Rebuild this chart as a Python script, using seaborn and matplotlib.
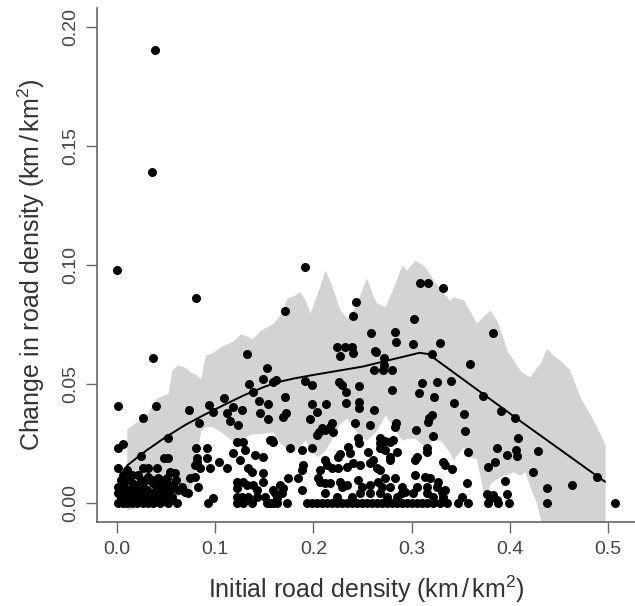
import matplotlib
matplotlib.use("Agg")
import matplotlib.pyplot as plt
import numpy as np
import pandas as pd
import seaborn as sns

# points well above the cloud
top_x = [0.0003, 0.0387, 0.0353, 0.1914, 0.0804, 0.1710, 0.0370, 0.1320, 0.2434, 0.2400,
         0.3086, 0.3170, 0.3323, 0.3024, 0.2583, 0.2834, 0.2841, 0.3011, 0.3289, 0.2627,
         0.2237, 0.2322, 0.2390, 0.2719, 0.3832]
top_y = [0.0978, 0.1903, 0.1390, 0.0992, 0.0861, 0.0807, 0.0607, 0.0625, 0.0845, 0.0786,
         0.0924, 0.0924, 0.0903, 0.0772, 0.0714, 0.0719, 0.0677, 0.0667, 0.0672, 0.0639,
         0.0655, 0.0655, 0.0655, 0.0607, 0.0714]

# initial density below 0.16
low_x = [0.1524, 0.1490, 0.1592, 0.1348, 0.1388, 0.1090, 0.0940, 0.0981, 0.1117, 0.1185,
         0.1270, 0.1450, 0.1535, 0.1456, 0.1541, 0.1151, 0.1236, 0.0730, 0.0838, 0.0014,
         0.0397, 0.0268, 0.0516, 0.0014, 0.0064, 0.0244, 0.0479, 0.0516, 0.0804, 0.0913,
         0.0811, 0.0920, 0.0794, 0.0845, 0.0947, 0.1042, 0.1117, 0.1219, 0.1280, 0.1185,
         0.1303, 0.1253, 0.1405, 0.1490, 0.1575, 0.1337, 0.1372, 0.1490, 0.0014, 0.0098,
         0.0268, 0.0319, 0.0411, 0.0064, 0.0149, 0.0217, 0.0319, 0.0421, 0.0540, 0.0591,
         0.0506, 0.0014, 0.0064, 0.0149, 0.0200, 0.0268, 0.0370, 0.0438, 0.0506, 0.0574,
         0.0658, 0.0743, 0.0794, 0.0828, 0.0014, 0.0064, 0.0149, 0.0217, 0.0268, 0.0353,
         0.0421, 0.0489, 0.0557, 0.0692, 0.0726, 0.0981, 0.1219, 0.1219, 0.1286, 0.1320,
         0.1388, 0.1422, 0.1490, 0.1219, 0.1270, 0.1337, 0.1422, 0.1507, 0.1592, 0.0811]
low_y = [0.0565, 0.0519, 0.0509, 0.0499, 0.0466, 0.0441, 0.0410, 0.0382, 0.0375, 0.0403,
         0.0389, 0.0429, 0.0415, 0.0375, 0.0350, 0.0343, 0.0327, 0.0389, 0.0334, 0.0406,
         0.0406, 0.0354, 0.0270, 0.0228, 0.0245, 0.0196, 0.0186, 0.0186, 0.0228, 0.0228,
         0.0186, 0.0186, 0.0158, 0.0144, 0.0144, 0.0172, 0.0144, 0.0256, 0.0256, 0.0207,
         0.0221, 0.0179, 0.0200, 0.0193, 0.0263, 0.0144, 0.0130, 0.0123, 0.0144, 0.0137,
         0.0144, 0.0144, 0.0144, 0.0116, 0.0116, 0.0116, 0.0109, 0.0102, 0.0130, 0.0126,
         0.0102, 0.0067, 0.0074, 0.0081, 0.0074, 0.0081, 0.0081, 0.0081, 0.0081, 0.0074,
         0.0067, 0.0102, 0.0109, 0.0067, 0.0039, 0.0032, 0.0039, 0.0046, 0.0039, 0.0039,
         0.0039, 0.0039, 0.0025, 0.0046, 0.0039, 0.0018, 0.0088, 0.0060, 0.0088, 0.0074,
         0.0074, 0.0053, 0.0088, 0.0025, 0.0025, 0.0025, 0.0025, 0.0025, 0.0053, 0.0172]

# the packed cluster near the origin
blob_x = [0.0040, 0.0120, 0.0180, 0.0240, 0.0300, 0.0360, 0.0420, 0.0480, 0.0040, 0.0110,
          0.0180, 0.0240, 0.0310, 0.0400, 0.0470, 0.0540, 0.0620, 0.0040, 0.0120, 0.0240,
          0.0300, 0.0360, 0.0450, 0.0600]
blob_y = [0.0018, 0.0018, 0.0018, 0.0018, 0.0018, 0.0018, 0.0018, 0.0018, 0.0053, 0.0053,
          0.0053, 0.0053, 0.0053, 0.0053, 0.0053, 0.0053, 0.0053, 0.0095, 0.0095, 0.0095,
          0.0095, 0.0095, 0.0095, 0.0095]

# initial density 0.16 - 0.34
mid_x = [0.2271, 0.2400, 0.2637, 0.3205, 0.2617, 0.2712, 0.2804, 0.2722, 0.1619, 0.1914,
         0.1982, 0.2264, 0.2288, 0.2468, 0.2332, 0.2804, 0.3103, 0.3255, 0.3079, 0.3228,
         0.1711, 0.1982, 0.2033, 0.2128, 0.2332, 0.2468, 0.2468, 0.2617, 0.1721, 0.1694,
         0.1965, 0.2186, 0.2169, 0.2084, 0.2118, 0.2060, 0.2033, 0.2203, 0.2424, 0.2576,
         0.2841, 0.2831, 0.3042, 0.3205, 0.3181, 0.3171, 0.3215, 0.1558, 0.1592, 0.1762,
         0.1880, 0.1982, 0.2356, 0.2458, 0.2468, 0.2271, 0.2254, 0.2373, 0.2678, 0.2678,
         0.2729, 0.2780, 0.2814, 0.2678, 0.2729, 0.2848, 0.2559, 0.2576, 0.2610, 0.2780,
         0.2780, 0.3052, 0.3035, 0.3153, 0.3153, 0.3340, 0.3323, 0.1897, 0.1880, 0.2067,
         0.2118, 0.2135, 0.2186, 0.2254, 0.2407, 0.2346, 0.2475, 0.2644, 0.2678, 0.3035,
         0.3136, 0.3187, 0.3272, 0.1745, 0.1846, 0.1660, 0.1694, 0.1880, 0.2050, 0.2067,
         0.2118, 0.2169, 0.2271, 0.2288, 0.2339, 0.2458, 0.2492, 0.2576, 0.2661, 0.2695,
         0.2729, 0.2831, 0.2780, 0.2899, 0.2933, 0.3052, 0.3153, 0.3255, 0.3306, 0.3340,
         0.1609, 0.1677, 0.1626, 0.2118, 0.2237, 0.2390, 0.2475, 0.2576, 0.2678, 0.2746,
         0.2848, 0.2899, 0.3018, 0.3153, 0.3221, 0.3323]
mid_y = [0.0616, 0.0628, 0.0635, 0.0625, 0.0558, 0.0558, 0.0558, 0.0578, 0.0516, 0.0513,
         0.0495, 0.0509, 0.0495, 0.0490, 0.0466, 0.0473, 0.0502, 0.0509, 0.0460, 0.0445,
         0.0445, 0.0415, 0.0382, 0.0415, 0.0418, 0.0425, 0.0396, 0.0389, 0.0375, 0.0361,
         0.0350, 0.0334, 0.0320, 0.0313, 0.0306, 0.0299, 0.0285, 0.0299, 0.0334, 0.0327,
         0.0336, 0.0320, 0.0306, 0.0368, 0.0354, 0.0341, 0.0280, 0.0263, 0.0256, 0.0228,
         0.0221, 0.0228, 0.0235, 0.0270, 0.0249, 0.0205, 0.0193, 0.0207, 0.0274, 0.0249,
         0.0260, 0.0256, 0.0263, 0.0228, 0.0221, 0.0214, 0.0214, 0.0165, 0.0179, 0.0193,
         0.0179, 0.0193, 0.0179, 0.0228, 0.0214, 0.0158, 0.0172, 0.0158, 0.0137, 0.0137,
         0.0179, 0.0158, 0.0144, 0.0144, 0.0165, 0.0151, 0.0158, 0.0144, 0.0137, 0.0116,
         0.0109, 0.0102, 0.0088, 0.0102, 0.0102, 0.0074, 0.0060, 0.0053, 0.0102, 0.0088,
         0.0081, 0.0081, 0.0088, 0.0067, 0.0074, 0.0095, 0.0067, 0.0074, 0.0088, 0.0067,
         0.0102, 0.0102, 0.0067, 0.0067, 0.0046, 0.0067, 0.0067, 0.0067, 0.0046, 0.0053,
         0.0039, 0.0039, 0.0018, 0.0039, 0.0025, 0.0025, 0.0039, 0.0039, 0.0039, 0.0025,
         0.0025, 0.0039, 0.0039, 0.0039, 0.0025, 0.0025]

# initial density above 0.33
high_x = [0.3595, 0.3398, 0.3730, 0.3432, 0.3907, 0.4053, 0.3534, 0.3544, 0.4087, 0.3866,
          0.4066, 0.4073, 0.3968, 0.4291, 0.3578, 0.3849, 0.3781, 0.3408, 0.4233, 0.4891,
          0.4630, 0.4382, 0.3951, 0.3561, 0.3765, 0.3833, 0.3968, 0.3510, 0.3799, 0.3866]
high_y = [0.0583, 0.0513, 0.0450, 0.0418, 0.0385, 0.0355, 0.0371, 0.0303, 0.0271, 0.0229,
          0.0221, 0.0196, 0.0200, 0.0218, 0.0214, 0.0172, 0.0149, 0.0140, 0.0130, 0.0109,
          0.0074, 0.0060, 0.0091, 0.0081, 0.0037, 0.0032, 0.0037, 0.0025, 0.0018, 0.0011]

# cells with no change at all
zero_x = [0.0014, 0.0064, 0.0098, 0.0149, 0.0200, 0.0268, 0.0319, 0.0370, 0.0438, 0.0523,
          0.0614, 0.0930, 0.1219, 0.1286, 0.1372, 0.1524, 0.1592, 0.1558, 0.1626, 0.1728,
          0.1931, 0.1982, 0.2033, 0.2084, 0.2135, 0.2186, 0.2237, 0.2288, 0.2339, 0.2390,
          0.2441, 0.2492, 0.2542, 0.2593, 0.2644, 0.2695, 0.2746, 0.2797, 0.2848, 0.2899,
          0.2950, 0.3001, 0.3052, 0.3103, 0.3153, 0.3221, 0.3289, 0.3357, 0.3476, 0.3578,
          0.3782, 0.3884, 0.3995, 0.4382, 0.5071]

# fitted trend
fit_x = [0.0099, 0.02, 0.03, 0.05, 0.07, 0.09, 0.11, 0.13, 0.15, 0.165, 0.18, 0.20, 0.25, 0.308, 0.317, 0.405, 0.497]
fit_y = [0.0155, 0.0188, 0.0220, 0.0277, 0.0328, 0.0372, 0.0413, 0.0453, 0.0487, 0.0508, 0.0522, 0.0537, 0.0572, 0.0630, 0.0625, 0.0360, 0.0088]

# envelope
band_x = [0.0099, 0.020, 0.030, 0.040, 0.052, 0.056, 0.062, 0.071, 0.074, 0.080, 0.085, 0.090,
          0.097, 0.105, 0.118, 0.126, 0.138, 0.146, 0.153, 0.159, 0.166, 0.173, 0.180, 0.186,
          0.192, 0.1965, 0.204, 0.2118, 0.218, 0.227, 0.234, 0.242, 0.254, 0.261, 0.2645, 0.273,
          0.281, 0.290, 0.295, 0.3035, 0.3136, 0.322, 0.329, 0.339, 0.342, 0.353, 0.360, 0.366,
          0.3748, 0.3799, 0.3866, 0.3934, 0.397, 0.4036, 0.410, 0.4155, 0.4206, 0.4274, 0.431,
          0.4375, 0.444, 0.451, 0.461, 0.4715, 0.485, 0.495, 0.497]
band_hi = [0.031, 0.034, 0.037, 0.044, 0.046, 0.056, 0.058, 0.0566, 0.055, 0.054, 0.052, 0.062,
           0.063, 0.0655, 0.068, 0.071, 0.069, 0.0725, 0.074, 0.0755, 0.079, 0.086, 0.087, 0.0887,
           0.085, 0.0797, 0.088, 0.0978, 0.092, 0.081, 0.0776, 0.082, 0.0944, 0.0866, 0.084, 0.0824,
           0.090, 0.0999, 0.0978, 0.102, 0.0992, 0.0936, 0.090, 0.085, 0.0866, 0.0852, 0.080, 0.0755,
           0.079, 0.081, 0.0768, 0.069, 0.064, 0.060, 0.0558, 0.054, 0.053, 0.057, 0.0587,
           0.065, 0.062, 0.060, 0.0558, 0.0445, 0.0347, 0.0263, 0.024]
band_lo = [-0.003, -0.002, -0.001, 0.000, 0.001, 0.002, 0.003, 0.004, 0.004, 0.015, 0.030, 0.032,
           0.032, 0.030, 0.026, 0.027, 0.029, 0.029, 0.0295, 0.0298, 0.025, 0.023, 0.022, 0.024,
           0.0263, 0.022, 0.0193, 0.022, 0.0263, 0.0334, 0.0355, 0.0305, 0.0263, 0.029, 0.0305, 0.0368,
           0.0319, 0.0263, 0.027, 0.027, 0.0235, 0.0263, 0.0263, 0.021, 0.018, 0.0235, 0.019, 0.0186,
           0.0011, 0.0081, 0.010, 0.0116, 0.012, 0.0130, 0.0116, 0.0130, 0.0067, -0.0003, -0.007,
           -0.015, -0.020, -0.025, -0.028, -0.030, -0.030, -0.030, -0.030]

points = pd.DataFrame({
    "density": top_x + low_x + blob_x + mid_x + high_x + zero_x,
    "change": top_y + low_y + blob_y + mid_y + high_y + [0.0] * len(zero_x),
})
fit = pd.DataFrame({"density": fit_x, "change": fit_y})

sns.set_style("ticks")
plt.rcParams["font.family"] = ["Liberation Sans", "DejaVu Sans"]
plt.rcParams["mathtext.fontset"] = "custom"
plt.rcParams["mathtext.rm"] = "Liberation Sans"
plt.rcParams["mathtext.it"] = "Liberation Sans:italic"

fig = plt.figure(figsize=(6.35, 6.06), dpi=100)
ax = fig.add_axes([97 / 635, 1 - 522 / 606, 538 / 635, 514 / 606])

ax.fill_between(band_x, band_lo, band_hi, color="#d3d3d3", linewidth=0, zorder=0)
sns.lineplot(data=fit, x="density", y="change", color="black", linewidth=1.4, ax=ax, zorder=2)
sns.scatterplot(data=points, x="density", y="change", color="black", s=42,
                linewidth=0, ax=ax, zorder=3)

ax.set_xlim(-0.0204, 0.5275)
ax.set_ylim(-0.0081, 0.2079)
ax.set_xticks([0.0, 0.1, 0.2, 0.3, 0.4, 0.5])
ax.set_xticklabels(["0.0", "0.1", "0.2", "0.3", "0.4", "0.5"])
ax.set_yticks([0.0, 0.05, 0.10, 0.15, 0.20])
ax.set_yticklabels(["0.00", "0.05", "0.10", "0.15", "0.20"], rotation=90, va="center", ha="center")

for side in ["top", "right"]:
    ax.spines[side].set_visible(False)
for side in ["left", "bottom"]:
    ax.spines[side].set_color("#666666")
    ax.spines[side].set_linewidth(1.2)

ax.tick_params(axis="x", length=8, width=1.0, color="#666666", labelsize=14,
               labelcolor="#444444", pad=6)
ax.tick_params(axis="y", length=8, width=1.0, color="#666666", labelsize=14,
               labelcolor="#444444", pad=11)

ax.set_xlabel(r"Initial road density $(\mathrm{km}\,/\,\mathrm{km}^2)$", fontsize=18,
              color="#333333", labelpad=11)
ax.set_ylabel(r"Change in road density $(\mathrm{km}\,/\,\mathrm{km}^2)$", fontsize=18,
              color="#333333", labelpad=11)

fig.savefig("out.png", dpi=100)
